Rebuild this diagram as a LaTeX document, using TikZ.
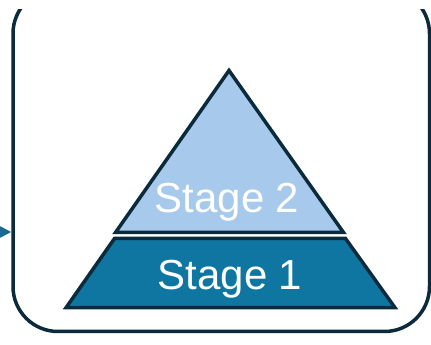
\documentclass[tikz,border=0pt]{standalone}
\usepackage{fontspec}
\setmainfont{Liberation Sans}
\usetikzlibrary{arrows.meta}
\definecolor{outline}{HTML}{0B2A3B}
\definecolor{lightblue}{HTML}{A7CAEC}
\definecolor{tealblue}{HTML}{0E76A0}
\definecolor{arrowblue}{HTML}{186A92}
\tikzset{
  framebox/.style={draw=outline, line width=3.5pt, rounded corners=45pt,
    minimum width=416.5pt, minimum height=342.9pt, inner sep=0pt, outer sep=1.75pt},
  tier/.style={draw=outline, line width=3.5pt, line join=miter},
  tiertext/.style={text=white, font=\fontsize{42}{50}\selectfont, inner sep=0pt, anchor=base},
  feed/.style={draw=arrowblue, line width=2pt, -{Triangle[length=15pt,width=15pt]}}
}
\begin{document}
\begin{tikzpicture}[x=1pt,y=1pt]
\useasboundingbox (0,0) rectangle (431,345);
\begin{scope}
  \clip (-50,-10) rectangle (480,335);
  \node[framebox] (frame) at (221.25,184.95) {};
\end{scope}
\coordinate (arrowstart) at (-30,113);
\draw[feed] (arrowstart) -- (arrowstart -| frame.west);
\draw[tier, fill=lightblue] (229,274.5) -- (115.5,112.5) -- (343.5,112.5) -- cycle;
\draw[tier, fill=tealblue] (114.5,106.5) -- (66,37.3) -- (395,37.3) -- (345.5,106.5) -- cycle;
\node[tiertext] (s2) at (227,132) {Stage 2};
\node[tiertext] (s1) at (230,55) {Stage 1};
\end{tikzpicture}
\end{document}
